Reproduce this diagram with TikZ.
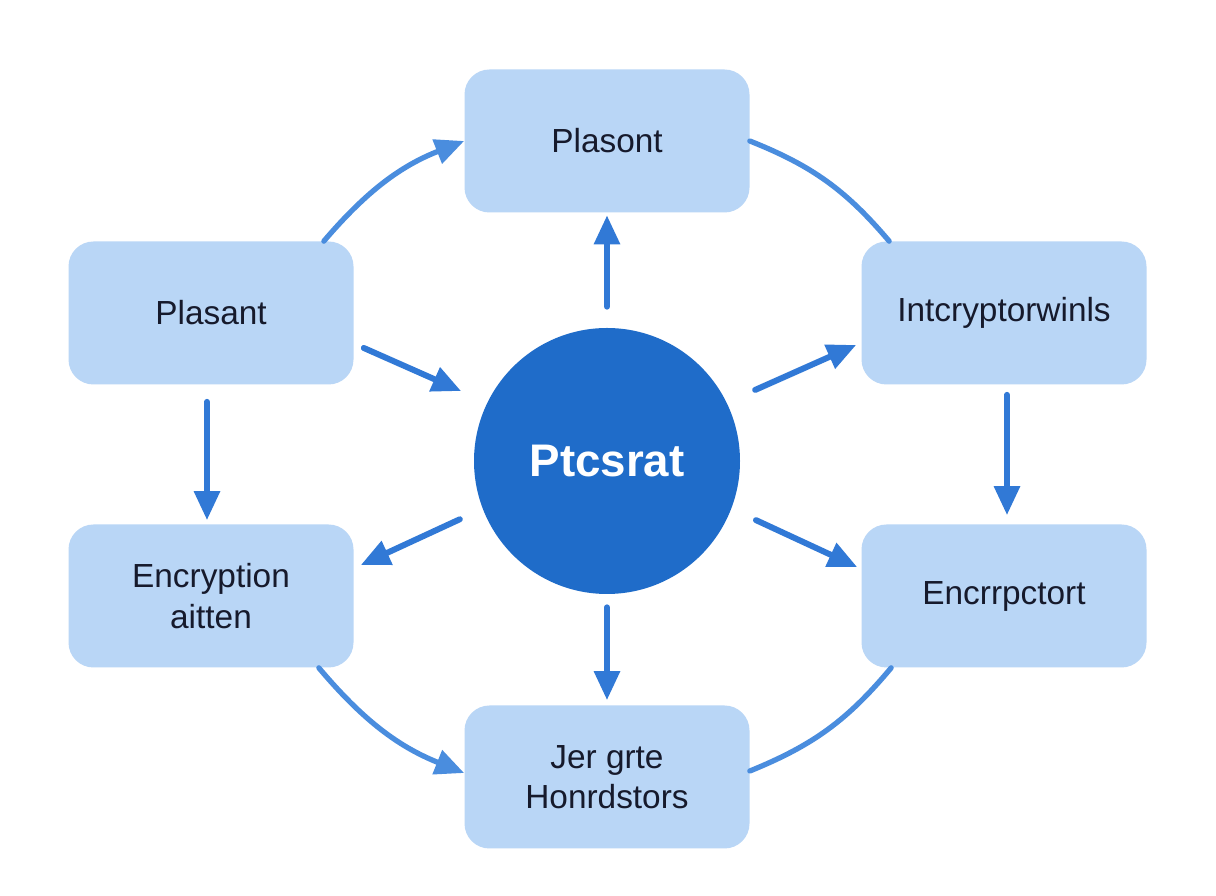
\documentclass[tikz,border=0pt]{standalone}
\usepackage{fontspec}
\setmainfont{Liberation Sans}
\usetikzlibrary{arrows.meta,positioning}

\definecolor{boxblue}{HTML}{B9D6F6}
\definecolor{hubblue}{HTML}{1F6CC9}
\definecolor{arrowblue}{HTML}{3179D6}
\definecolor{curveblue}{HTML}{4A8DDE}
\definecolor{textdark}{HTML}{161A2C}

\tikzset{
  stagebox/.style={rectangle,rounded corners=0.5cm,fill=boxblue,
    minimum width=5.7cm,minimum height=2.86cm,align=center,
    text=textdark,font=\fontsize{19}{23}\selectfont},
  hub/.style={circle,fill=hubblue,minimum size=5.32cm,text=white,
    font=\fontsize{26}{30}\selectfont\bfseries},
  arr/.style={draw=arrowblue,line width=3.4pt,line cap=round,
    -{Triangle[length=0.58cm,width=0.5cm]}},
  link/.style={draw=curveblue,line width=3pt,line cap=round}
}

\begin{document}
\begin{tikzpicture}

      \useasboundingbox[fill=white] (0,0) rectangle (24.32,17.92);

      % Nodes
      \begin{scope}[every node/.style={stagebox}]
        \node (plasont) at (12.14,15.10) {Plasont};
        \node (plasant) at (4.22,11.66) {Plasant};
        \node (intcr) at (20.08,11.66) {Intcryptorwinls};
        \node (encrypt) at (4.22,6.00) {Encryption\\aitten};
        \node (encrpc) at (20.08,6.00) {Encrrpctort};
        \node (jer) at (12.14,2.38) {Jer grte\\Honrdstors};
      \end{scope}

      \node[hub] (ptc) at (12.14,8.70) {Ptcsrat};

      % Straight arrows
      \begin{scope}[every path/.style={arr}]
        \path[shorten <=0.42cm,shorten >=0.05cm] (ptc) -- (plasont);
        \path[shorten <=0.26cm,shorten >=0.1cm] (ptc) -- (jer);
        \path[shorten <=0.34cm,shorten >=0.08cm] ([xshift=-0.08cm]plasant.south) -- ([xshift=-0.08cm]encrypt.north);
        \path[shorten <=0.2cm,shorten >=0.18cm] ([xshift=0.06cm]intcr.south) -- ([xshift=0.06cm]encrpc.north);

        \path[shorten >=0.57cm] ([shift={(0.2,-0.7)}]plasant.east) -- (ptc.154);
        \path[shorten <=0.62cm] (ptc.26) -- ([shift={(-0.1,-0.64)}]intcr.west);
        \path[shorten <=0.5cm] (ptc.201) -- ([shift={(0.14,0.62)}]encrypt.east);
        \path[shorten <=0.54cm] (ptc.-21) -- ([shift={(-0.08,0.58)}]encrpc.west);
      \end{scope}

      % Outer ring
      \path[arr,line width=3pt,draw=curveblue] ([xshift=-0.6cm]plasant.north east) to[bend left=14] (plasont.west);
      \path[link] (plasont.east) to[bend left=14] ([xshift=0.56cm]intcr.north west);
      \path[link] ([xshift=0.6cm]encrpc.south west) to[bend left=14] ([yshift=0.12cm]jer.east);
      \path[arr,line width=3pt,draw=curveblue] ([xshift=-0.7cm]encrypt.south east) to[bend right=14] ([yshift=0.08cm]jer.west);

    \end{tikzpicture}
\end{document}
